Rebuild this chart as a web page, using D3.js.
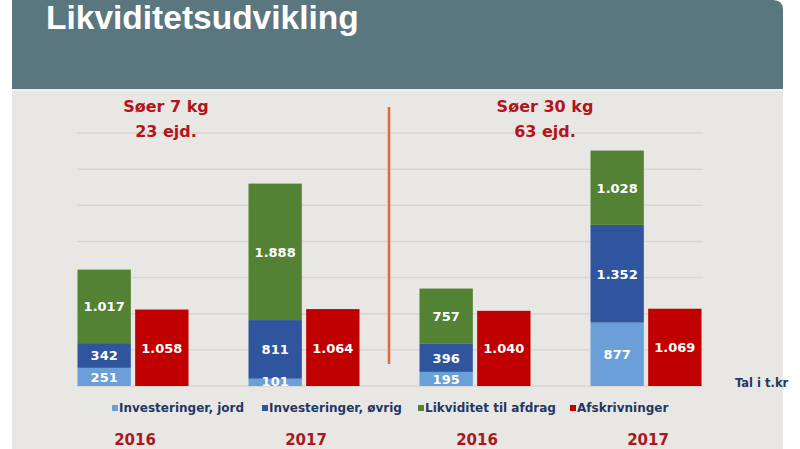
<!DOCTYPE html>
<html>
<head>
<meta charset="utf-8">
<script src="https://cdn.jsdelivr.net/npm/d3@7"></script>
<style>
  body { margin: 0; background: #fff; }
  svg { display: block; }
</style>
</head>
<body>
<div id="chart"></div>
<script>
// data
var years = ["2016", "2017", "2016", "2017"];
var groupTitles = ["Søer 7 kg", "Søer 30 kg"];
var groupSubtitles = ["23 ejd.", "63 ejd."];
var seriesNames = ["Investeringer, jord", "Investeringer, øvrig", "Likviditet til afdrag", "Afskrivninger"];
var jord = [251, 101, 195, 877];
var ovrig = [342, 811, 396, 1352];
var likviditet = [1017, 1888, 757, 1028];
var afskrivninger = [1058, 1064, 1040, 1069];
var yTicks = [0, 500, 1000, 1500, 2000, 2500, 3000, 3500];

var colors = ["#6a9fd8", "#2f559e", "#548235", "#c00000"];

var svgWidth = 800;
var svgHeight = 449;

var svg = d3.select("#chart")
    .append("svg")
    .attr("width", svgWidth)
    .attr("height", svgHeight);

// slide background + header
svg.append("rect")
    .attr("x", 12).attr("y", 88)
    .attr("width", 771).attr("height", 361)
    .attr("fill", "#e9e7e3");

svg.append("path")
    .attr("d", "M12,0 H773 Q783,0 783,10 V89 H12 Z")
    .attr("fill", "#5a767f");

svg.append("line")
    .attr("x1", 12).attr("x2", 783)
    .attr("y1", 90).attr("y2", 90)
    .attr("stroke", "#f3f2ef").attr("stroke-width", 1.5);

svg.append("text")
    .attr("x", 46).attr("y", 29)
    .attr("fill", "#fff")
    .attr("font-family", "Liberation Sans, Arial, sans-serif")
    .attr("font-weight", "bold")
    .attr("font-size", 33.5)
    .text("Likviditetsudvikling");

// scales
var idx = d3.range(years.length);

var x = d3.scaleBand()
    .domain(idx)
    .range([47.5, 731.5]);

var xInner = d3.scaleBand()
    .domain(["stack", "afskr"])
    .range([30, 141])
    .paddingInner(0.075);

var y = d3.scaleLinear()
    .domain([0, 3500])
    .range([386, 133]);

// gridlines
svg.append("g")
    .selectAll("line")
    .data(yTicks)
    .enter()
    .append("line")
    .attr("x1", 77).attr("x2", 703)
    .attr("y1", d => y(d)).attr("y2", d => y(d))
    .attr("stroke", "#d8d6d2")
    .attr("stroke-width", 1.5);

// stacked bars
var table = idx.map(i => ({ i: i, jord: jord[i], ovrig: ovrig[i], likviditet: likviditet[i] }));
var stack = d3.stack().keys(["jord", "ovrig", "likviditet"]);
var layers = stack(table);

var bars = svg.append("g");

layers.forEach(function (layer, k) {
    bars.append("g")
        .attr("fill", colors[k])
        .selectAll("rect")
        .data(layer)
        .enter()
        .append("rect")
        .attr("x", d => x(d.data.i) + xInner("stack"))
        .attr("width", xInner.bandwidth())
        .attr("y", d => y(d[1]))
        .attr("height", d => y(d[0]) - y(d[1]));
});

bars.append("g")
    .attr("fill", colors[3])
    .selectAll("rect")
    .data(idx)
    .enter()
    .append("rect")
    .attr("x", i => x(i) + xInner("afskr"))
    .attr("width", xInner.bandwidth())
    .attr("y", i => y(afskrivninger[i]))
    .attr("height", i => y(0) - y(afskrivninger[i]));

// value labels
var fmt = v => d3.format(",")(v).replace(/,/g, ".");
var labelFont = "DejaVu Sans, Verdana, sans-serif";

var labels = svg.append("g")
    .attr("fill", "#fff")
    .attr("font-family", labelFont)
    .attr("font-weight", "bold")
    .attr("font-size", 13)
    .attr("text-anchor", "middle");

layers.forEach(function (layer) {
    labels.append("g")
        .selectAll("text")
        .data(layer)
        .enter()
        .append("text")
        .attr("x", d => x(d.data.i) + xInner("stack") + xInner.bandwidth() / 2)
        .attr("y", d => Math.min((y(d[0]) + y(d[1])) / 2 + 5, 386))
        .text(d => fmt(d[1] - d[0]));
});

labels.append("g")
    .selectAll("text")
    .data(idx)
    .enter()
    .append("text")
    .attr("x", i => x(i) + xInner("afskr") + xInner.bandwidth() / 2)
    .attr("y", i => (y(afskrivninger[i]) + y(0)) / 2 + 5)
    .text(i => fmt(afskrivninger[i]));

// year labels
svg.append("g")
    .selectAll("text")
    .data(idx)
    .enter()
    .append("text")
    .attr("x", i => x(i) + x.bandwidth() / 2 + 2)
    .attr("y", 445)
    .attr("text-anchor", "middle")
    .attr("fill", "#a8191f")
    .attr("font-family", labelFont)
    .attr("font-weight", "bold")
    .attr("font-size", 15)
    .text(i => years[i]);

// group headings
var groupCenters = [166, 545];
var heads = svg.append("g")
    .attr("fill", "#b3151c")
    .attr("font-family", labelFont)
    .attr("font-weight", "bold")
    .attr("font-size", 16)
    .attr("text-anchor", "middle");

heads.selectAll(".t1")
    .data(groupTitles)
    .enter()
    .append("text")
    .attr("x", (d, i) => groupCenters[i])
    .attr("y", 112)
    .text(d => d);

heads.selectAll(".t2")
    .data(groupSubtitles)
    .enter()
    .append("text")
    .attr("x", (d, i) => groupCenters[i])
    .attr("y", 137)
    .text(d => d);

// divider
svg.append("line")
    .attr("x1", 389).attr("x2", 389)
    .attr("y1", 107).attr("y2", 364)
    .attr("stroke", "#e2683c")
    .attr("stroke-width", 2.5);

// legend
var legendX = [112, 262, 418, 570];
var legend = svg.append("g")
    .selectAll("g")
    .data(seriesNames)
    .enter()
    .append("g")
    .attr("transform", (d, i) => `translate(${legendX[i]}, 408)`);

legend.append("rect")
    .attr("x", 0).attr("y", -3)
    .attr("width", 6).attr("height", 6)
    .attr("fill", (d, i) => colors[i]);

legend.append("text")
    .attr("x", 7).attr("y", 4)
    .attr("fill", "#1f3864")
    .attr("font-family", labelFont)
    .attr("font-weight", "bold")
    .attr("font-size", 12)
    .text(d => d);

svg.append("text")
    .attr("x", 735).attr("y", 387)
    .attr("fill", "#1f3864")
    .attr("font-family", labelFont)
    .attr("font-weight", "bold")
    .attr("font-size", 11.5)
    .text("Tal i t.kr");
</script>
</body>
</html>
